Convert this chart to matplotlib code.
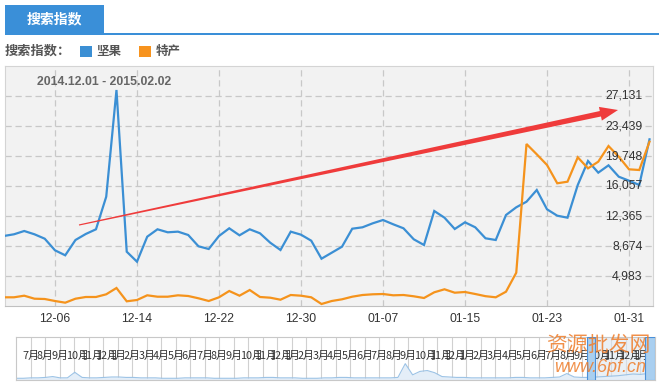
import numpy as np
import pandas as pd
import matplotlib
matplotlib.use("Agg")
import matplotlib.pyplot as plt
import matplotlib.dates as mdates
from matplotlib.patches import Rectangle, Polygon

plt.rcParams["font.family"] = ["Liberation Sans", "Noto Sans CJK SC", "DejaVu Sans"]

# daily search index, 2014-12-01 .. 2015-02-02
dates = pd.date_range("2014-12-01", "2015-02-02", freq="D")
nuts = [9905, 10115, 10520, 10115, 9573, 8145, 7530, 9413, 10150, 10730,
        14740, 27870, 7973, 6743, 9820, 10730, 10360, 10440, 10028, 8637,
        8305, 9905, 10852, 9990, 10730, 10237, 9080, 8182, 10440, 10065,
        9327, 7112, 7850, 8588, 10803, 10975, 11467, 11873, 11344, 10852,
        9499, 8797, 12981, 12157, 10766, 11590, 10975, 9622, 9413, 12488,
        13436, 14125, 15565, 13190, 12403, 12157, 16180, 19133, 17698, 18600,
        17200, 16710, 16180, 21800]
specialty = [2362, 2362, 2560, 2190, 2153, 1907, 1700, 2190, 2400, 2400,
             2732, 3507, 1870, 2030, 2608, 2436, 2436, 2608, 2522, 2240,
             1907, 2362, 3138, 2560, 3260, 2400, 2313, 2067, 2645, 2560,
             2362, 1538, 1907, 2116, 2436, 2645, 2732, 2768, 2608, 2645,
             2486, 2276, 2978, 3347, 2928, 3015, 2768, 2500, 2362, 3052,
             5390, 21224, 19957, 18640, 16390, 16587, 19588, 18230, 19047, 20978,
             19660, 18110, 18025, 21507]

y_ticks = [4983, 8674, 12365, 16057, 19748, 23439, 27131]
y_labels = ["4,983", "8,674", "12,365", "16,057", "19,748", "23,439", "27,131"]
y_min, y_max = 1292, 30822

x_ticks = pd.to_datetime(["2014-12-06", "2014-12-14", "2014-12-22", "2014-12-30",
                          "2015-01-07", "2015-01-15", "2015-01-23", "2015-01-31"])

# navigator (overview) months and rough overview series
nav_months = ["7月", "8月", "9月", "10月", "11月", "12月",
              "1月", "2月", "3月", "4月", "5月", "6月", "7月", "8月", "9月", "10月", "11月", "12月",
              "1月", "2月", "3月", "4月", "5月", "6月", "7月", "8月", "9月", "10月", "11月", "12月",
              "1月", "2月", "3月", "4月", "5月", "6月", "7月", "8月", "9月", "10月", "11月", "12月",
              "1月", "2月"]
nav_vals = [4, 4, 5, 5, 6, 8, 5, 5, 18, 6, 5, 5, 6, 7, 7, 6, 6, 5, 5, 5,
            4, 4, 4, 5, 5, 5, 5, 4, 4, 4, 4, 5, 5, 5, 6, 6, 5, 5, 5, 4,
            4, 4, 5, 5, 6, 6, 5, 5, 5, 5, 5, 5, 6, 38, 12, 20, 22, 17, 8, 7,
            6, 6, 5, 5, 5, 5, 5, 5, 6, 6, 5, 5, 5, 6, 7, 15, 7, 6, 6, 7,
            8, 9, 10, 12, 14, 13, 15, 18]

BLUE = "#3b8fd4"
ORANGE = "#f5931c"
W, H = 659, 387


def fx(px):
    return px / W


def fy(py):
    return 1 - py / H


fig = plt.figure(figsize=(W / 100, H / 100), dpi=100)

# header tab
fig.patches.append(Rectangle((fx(5), fy(33)), 99 / W, 28 / H, transform=fig.transFigure,
                             facecolor="#3a8fd8", edgecolor="none"))
fig.patches.append(Rectangle((fx(5), fy(35)), 654 / W, 2.2 / H, transform=fig.transFigure,
                             facecolor="#3a8fd8", edgecolor="none"))
fig.text(fx(54), fy(19), "搜索指数", color="white", fontsize=10, fontweight="bold",
         ha="center", va="center", family=["Noto Sans CJK SC"])

# legend row
fig.text(fx(5), fy(51), "搜索指数：", color="#555555", fontsize=9.5, fontweight="bold",
         ha="left", va="center", family=["Noto Sans CJK SC"])
fig.patches.append(Rectangle((fx(80), fy(57)), 12 / W, 11 / H, transform=fig.transFigure,
                             facecolor=BLUE, edgecolor="none"))
fig.text(fx(96), fy(51), "坚果", color="#555555", fontsize=9, fontweight="bold",
         ha="left", va="center", family=["Noto Sans CJK SC"])
fig.patches.append(Rectangle((fx(139), fy(57)), 12 / W, 11 / H, transform=fig.transFigure,
                             facecolor="#f7931e", edgecolor="none"))
fig.text(fx(156), fy(51), "特产", color="#555555", fontsize=9, fontweight="bold",
         ha="left", va="center", family=["Noto Sans CJK SC"])

# main chart
ax = fig.add_axes([fx(5), fy(306), 648 / W, 240 / H])
ax.set_facecolor("#f2f2f2")
ax.plot(dates, nuts, color=BLUE, lw=1.6, solid_joinstyle="miter", zorder=3)
ax.plot(dates, specialty, color=ORANGE, lw=1.6, solid_joinstyle="miter", zorder=3)

ax.set_ylim(y_min, y_max)
ax.set_yticks(y_ticks)
ax.set_yticklabels([])
ax.set_xlim(dates[0] + pd.Timedelta(hours=3), dates[0] + pd.Timedelta(days=63.34))
ax.set_xticks(x_ticks)
ax.xaxis.set_major_formatter(mdates.DateFormatter("%m-%d"))
ax.tick_params(axis="both", length=0)
ax.tick_params(axis="x", pad=5, labelsize=8.7, labelcolor="#333333")
ax.grid(True, color="#c8c8c8", linestyle=(0, (5, 3)), lw=0.9)
ax.set_axisbelow(True)
for side in ["top", "left", "right"]:
    ax.spines[side].set_color("#d4d4d4")
ax.spines["bottom"].set_color("#c0c0c0")

for v, lab in zip(y_ticks, y_labels):
    ax.text(0.984, v, lab, transform=ax.get_yaxis_transform(), ha="right", va="center",
            fontsize=8.8, color="#333333", zorder=4)

ax.text(0.049, 0.933, "2014.12.01 - 2015.02.02", transform=ax.transAxes, ha="left",
        va="center", fontsize=8.8, fontweight="bold", color="#666666", zorder=4)

# red arrow annotation drawn over the chart
tail = np.array([79.0, 225.0])
tip = np.array([618.0, 110.0])
u = (tip - tail) / np.linalg.norm(tip - tail)
n = np.array([-u[1], u[0]])
base = tip - 18 * u
pts = [tail + 0.6 * n, base + 2.8 * n, base + 7 * n, tip, base - 7 * n, base - 2.8 * n, tail - 0.6 * n]
fig.patches.append(Polygon([(fx(p[0]), fy(p[1])) for p in pts], closed=True,
                           transform=fig.transFigure, facecolor="#ef3b3b", edgecolor="none",
                           zorder=10))

# navigator
nav = fig.add_axes([fx(16), fy(380), 639 / W, 43 / H])
nav.set_xlim(0, len(nav_months))
nav.set_ylim(0, 100)
nav_x = np.linspace(0, len(nav_months), len(nav_vals))
nav.fill_between(nav_x, 0, nav_vals, color="#e4eef8", lw=0)
nav.plot(nav_x, nav_vals, color="#9cc3e6", lw=0.8)
for k, m in enumerate(nav_months):
    if k > 0:
        nav.axvline(k, color="#d0d0d0", lw=0.8, zorder=0)
    nav.text(k + 0.42, 0.56, m, transform=nav.get_xaxis_transform(), ha="left", va="center",
             fontsize=7.8, color="#333333", family=["Noto Sans CJK SC"], clip_on=True)
nav.set_xticks([])
nav.set_yticks([])
for s in nav.spines.values():
    s.set_color("#c8c8c8")
nav.axvspan(39.9, 43.3, color="#dde6ef", alpha=0.6, lw=0, zorder=0)
nav.add_patch(Rectangle((39.3, 0), 0.6, 100, facecolor="#a9cff0", edgecolor="#4a90d9", lw=0.8, zorder=5))
nav.add_patch(Rectangle((43.3, 0), 0.7, 100, facecolor="#a9cff0", edgecolor="#4a90d9", lw=0.8, zorder=5))

# site watermark
fig.text(fx(598), fy(345), "资源批发网", color="#ef7d2a", fontsize=15, ha="center", va="center",
         family=["Noto Sans CJK SC"], alpha=0.85, zorder=20)
fig.text(fx(600), fy(367), "www.6pf.cn", color="#ef7d2a", fontsize=13, ha="center", va="center",
         style="italic", alpha=0.85, zorder=20)

fig.savefig("out.png", dpi=100)
